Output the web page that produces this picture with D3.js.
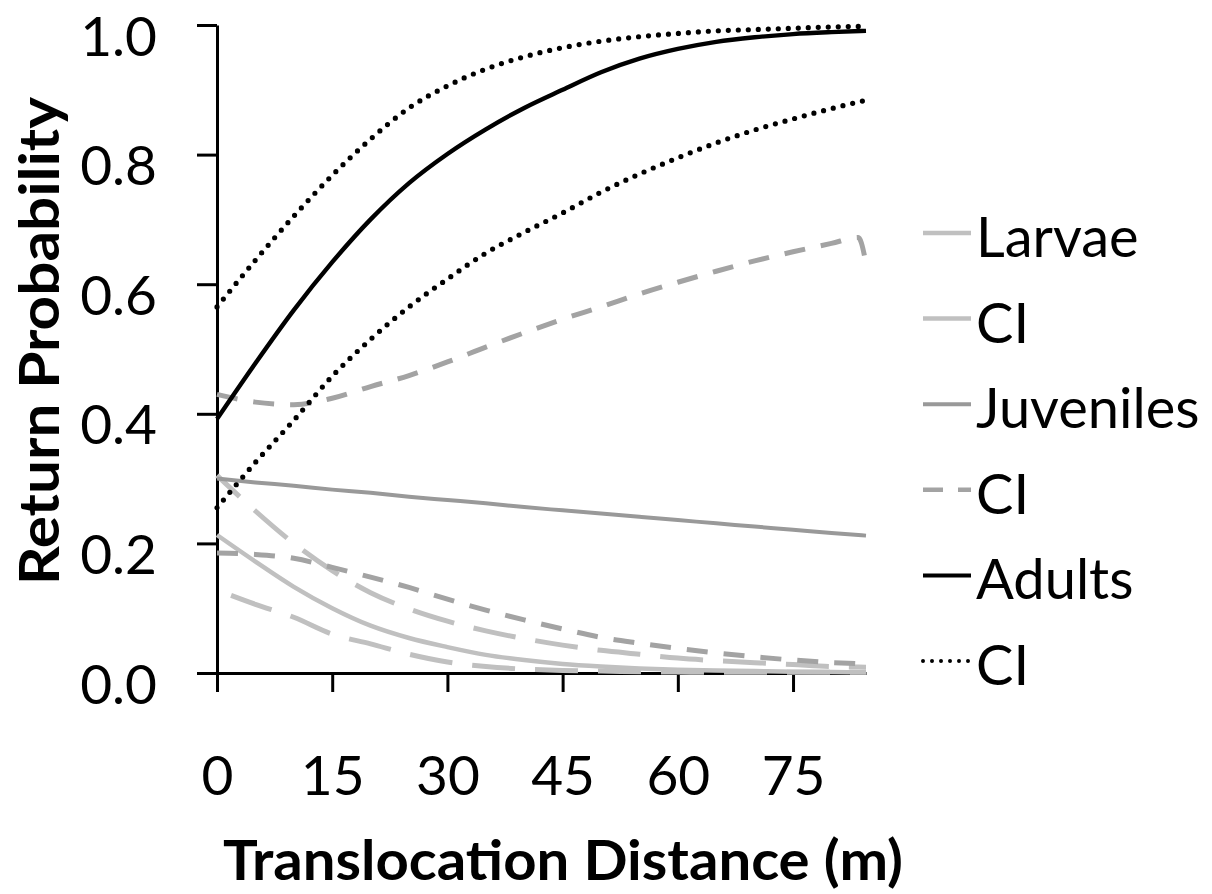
<!DOCTYPE html>
<html>
<head>
<meta charset="utf-8">
<script src="https://cdn.jsdelivr.net/npm/d3@7"></script>
<style>
  html, body { margin: 0; padding: 0; background: #fff; }
  svg { display: block; }
</style>
</head>
<body>
<svg id="chart" width="1212" height="894"></svg>
<script>
// ---- data ----
const distance = [0,5,10,15,20,25,30,35,40,45,50,55,60,65,70,75,80,84.5];
const juvUpperDistance = [0,5,10,15,20,25,30,35,40,45,50,55,60,65,70,75,80,83.5,84.5];

const larvae      = [0.213,0.172,0.133,0.100,0.073,0.054,0.040,0.028,0.020,0.014,0.010,0.007,0.005,0.004,0.003,0.002,0.0015,0.001];
const larvaeUpper = [0.305,0.250,0.200,0.158,0.124,0.099,0.080,0.065,0.053,0.043,0.035,0.029,0.023,0.019,0.016,0.013,0.010,0.009];
const larvaeLower = [0.128,0.106,0.086,0.060,0.045,0.029,0.017,0.010,0.006,0.004,0.003,0.002,0.0015,0.001,0.001,0.001,0.001,0.001];

const juveniles      = [0.300,0.294,0.289,0.283,0.278,0.272,0.267,0.262,0.256,0.251,0.246,0.241,0.236,0.231,0.226,0.221,0.216,0.212];
const juvenilesUpper = [0.430,0.418,0.414,0.424,0.442,0.459,0.480,0.503,0.525,0.546,0.565,0.585,0.603,0.620,0.636,0.650,0.663,0.672,0.632];
const juvenilesLower = [0.185,0.183,0.177,0.163,0.148,0.132,0.114,0.097,0.082,0.068,0.055,0.046,0.038,0.031,0.025,0.020,0.016,0.014];

const adults      = [0.392,0.478,0.560,0.634,0.700,0.756,0.801,0.839,0.872,0.900,0.927,0.948,0.963,0.974,0.981,0.986,0.989,0.991];
const adultsUpper = [0.565,0.637,0.705,0.768,0.824,0.872,0.906,0.932,0.951,0.965,0.975,0.982,0.987,0.991,0.993,0.995,0.997,0.998];
const adultsLower = [0.255,0.325,0.390,0.458,0.515,0.565,0.608,0.648,0.680,0.710,0.742,0.770,0.795,0.818,0.838,0.855,0.871,0.884];

const xTicks = [0,15,30,45,60,75];
const yTicks = [0,0.2,0.4,0.6,0.8,1.0];
const legendLabels = ["Larvae","CI","Juveniles","CI","Adults","CI"];
const xTitle = "Translocation Distance (m)";
const yTitle = "Return Probability";

// ---- styles ----
const LIGHT = "#c0c0c0", MID = "#999999", MIDDASH = "#a3a3a3", BLACK = "#000";
const styles = {
  larvae:      {stroke: LIGHT, width: 4.5, dash: null},
  larvaeUpper: {stroke: LIGHT, width: 5, dash: "43 20", offset: 12},
  larvaeLower: {stroke: LIGHT, width: 5, dash: "43 20", offset: 48},
  juveniles:   {stroke: MID, width: 4, dash: null},
  juvUpper:    {stroke: MIDDASH, width: 5, dash: "21 16", offset: 0},
  juvLower:    {stroke: MIDDASH, width: 5, dash: "21 16", offset: 0},
  adults:      {stroke: BLACK, width: 4.4, dash: null},
  adultsCI:    {stroke: BLACK, width: 5.2, dash: "0 10", cap: "round"}
};

const FONT = "Lato, 'Open Sans', sans-serif";
const svg = d3.select("#chart");

const x = d3.scaleLinear().domain([0, 84.5]).range([217, 866]);
const y = d3.scaleLinear().domain([0, 1]).range([673, 25]);

// axes
const xAxis = d3.axisBottom(x).tickValues(xTicks).tickSize(19).tickSizeOuter(0).tickFormat(d3.format("d"));
const yAxis = d3.axisLeft(y).tickValues(yTicks).tickSize(20).tickSizeOuter(0).tickFormat(d3.format(".1f"));

const gx = svg.append("g").attr("transform", `translate(0,${y(0)})`).call(xAxis);
const gy = svg.append("g").attr("transform", `translate(${x(0)},0)`).call(yAxis);
[gx, gy].forEach(g => {
  g.select(".domain").attr("stroke", "#000").attr("stroke-width", 3);
  g.selectAll(".tick line").attr("stroke", "#000").attr("stroke-width", 3);
  g.selectAll(".tick text").attr("fill", "#000").style("font-family", FONT).style("font-size", "55px");
});
gx.selectAll(".tick text").attr("y", 0).attr("dy", 0).attr("transform", "translate(0,122)");
gy.selectAll(".tick text").attr("x", 0).attr("dy", 0).attr("transform", "translate(-60,30)");

// lines
function draw(xs, ys, st) {
  const data = xs.map((d, i) => [d, ys[i]]);
  const line = d3.line().x(d => x(d[0])).y(d => y(d[1])).curve(d3.curveMonotoneX);
  const p = svg.append("path").datum(data).attr("d", line)
    .attr("fill", "none").attr("stroke", st.stroke).attr("stroke-width", st.width)
    .attr("stroke-linecap", st.cap || "butt").attr("stroke-linejoin", "round");
  if (st.dash) p.attr("stroke-dasharray", st.dash).attr("stroke-dashoffset", st.offset || 0);
}
draw(distance, larvaeLower, styles.larvaeLower);
draw(distance, larvaeUpper, styles.larvaeUpper);
draw(distance, larvae, styles.larvae);
draw(distance, juvenilesLower, styles.juvLower);
draw(juvUpperDistance, juvenilesUpper, styles.juvUpper);
draw(distance, juveniles, styles.juveniles);
draw(distance, adultsLower, styles.adultsCI);
draw(distance, adultsUpper, styles.adultsCI);
draw(distance, adults, styles.adults);

// legend
const legendStyles = [
  {stroke: LIGHT, width: 4.5, dash: null},
  {stroke: LIGHT, width: 4.5, dash: null},
  {stroke: MID, width: 4, dash: null},
  {stroke: MIDDASH, width: 4.5, dash: "20 15"},
  {stroke: BLACK, width: 4, dash: null},
  {stroke: BLACK, width: 4, dash: "0 9", cap: "round"}
];
const lg = svg.append("g");
legendLabels.forEach((lab, i) => {
  const ly = 233 + i * 85.6;
  const st = legendStyles[i];
  const l = lg.append("line").attr("x1", 923).attr("x2", 971).attr("y1", ly).attr("y2", ly)
    .attr("stroke", st.stroke).attr("stroke-width", st.width).attr("stroke-linecap", st.cap || "butt");
  if (st.dash) l.attr("stroke-dasharray", st.dash);
  lg.append("text").attr("x", 976).attr("y", ly + 24).text(lab)
    .style("font-family", FONT).style("font-size", "56px").attr("fill", "#000");
});

// titles
svg.append("text").attr("x", 223).attr("y", 880).text(xTitle)
  .attr("textLength", 680).attr("lengthAdjust", "spacingAndGlyphs")
  .style("font-family", FONT).style("font-weight", "bold").style("font-size", "56px").attr("fill", "#000");
svg.append("text").attr("transform", "translate(59,585) rotate(-90)").text(yTitle)
  .attr("textLength", 488).attr("lengthAdjust", "spacingAndGlyphs")
  .style("font-family", FONT).style("font-weight", "bold").style("font-size", "56px").attr("fill", "#000");
</script>
</body>
</html>
